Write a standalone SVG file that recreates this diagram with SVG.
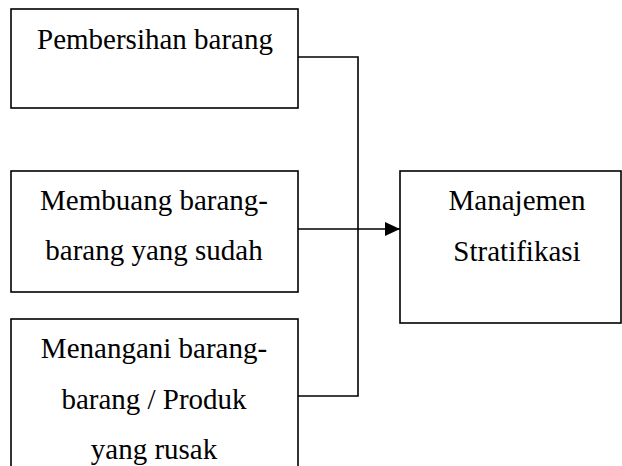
<svg xmlns="http://www.w3.org/2000/svg" width="622" height="466" viewBox="0 0 622 466">
<defs>
<style>
.box{fill:#fff;stroke:#000;stroke-width:1.6}
.t{font-size:29px;fill:#000;text-anchor:middle}
.c{fill:none;stroke:#000;stroke-width:1.6}
</style>
<marker id="arr" markerWidth="16" markerHeight="14" refX="15" refY="7" orient="auto" markerUnits="userSpaceOnUse">
<path d="M0,0 L15,7 L0,14 Z" fill="#000"/>
</marker>
</defs>
<rect width="622" height="466" fill="#fff"/>
<g id="connectors">
<polyline class="c" points="298,57 358,57 358,396 298,396"/>
<line class="c" x1="298" y1="229" x2="400" y2="229" stroke-width="2.2" marker-end="url(#arr)"/>
</g>
<g font-family="Liberation Serif, Tinos, Times New Roman, serif">
<g id="node1">
<rect class="box" x="11" y="9" width="287" height="99"/>
<text class="t" x="155" y="49">Pembersihan barang</text>
</g>
<g id="node2">
<rect class="box" x="11" y="171" width="287" height="121"/>
<text class="t" x="154" y="210">Membuang barang-</text>
<text class="t" x="154" y="260">barang yang sudah</text>
</g>
<g id="node3">
<rect class="box" x="11" y="319" width="287" height="160"/>
<text class="t" x="154" y="358">Menangani barang-</text>
<text class="t" x="154" y="409">barang / Produk</text>
<text class="t" x="154" y="459">yang rusak</text>
</g>
<g id="node4">
<rect class="box" x="400" y="171" width="221" height="152"/>
<text class="t" x="517" y="210">Manajemen</text>
<text class="t" x="517" y="261">Stratifikasi</text>
</g>
</g>
</svg>
